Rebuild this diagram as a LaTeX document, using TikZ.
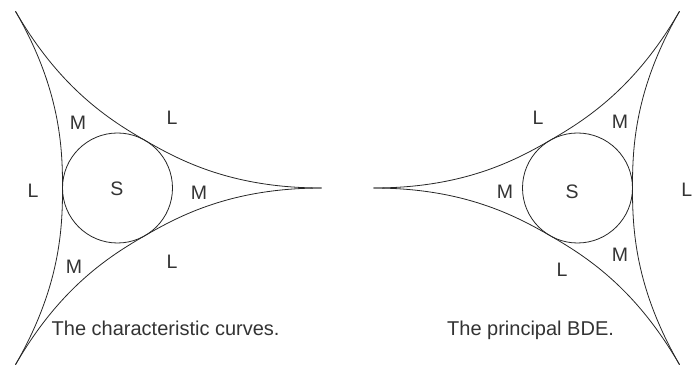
\documentclass[tikz,border=0pt]{standalone}
\usepackage{fontspec}
\setmainfont{Liberation Sans}
\newcommand\myarcpath{(204,0) .. controls (114,0) and (62.1,27.6) .. (27.5,47.6)
                        .. controls (-7.1,67.6) and (-57,98.8) .. (-102,176.7)}
\newcommand\mytricusp{%
  \draw[curve] (0,0) circle[radius=55];
  \draw[curve] \myarcpath;
  \begin{scope}[rotate=120]\draw[curve] \myarcpath;\end{scope}
  \begin{scope}[rotate=240]\draw[curve] \myarcpath;\end{scope}}
\begin{document}
\begin{tikzpicture}[x=1pt,y=1pt,
  curve/.style={line width=0.8pt, draw=black!85},
  lab/.style={text=black!80, font=\fontsize{19.5}{22}\selectfont, inner sep=0pt},
  captext/.style={text=black!80, font=\fontsize{20}{23}\selectfont, inner sep=0pt, anchor=base west}]
\useasboundingbox (0,0) rectangle (693,372);
\clip (0,0) rectangle (693,372);
% left figure
\begin{scope}[shift={(117.5,184)}]
  \coordinate (cl) at (0,0);
  \mytricusp
\end{scope}
% right figure (mirror)
\begin{scope}[shift={(577.5,184)}, xscale=-1]
  \coordinate (cr) at (0,0);
  \mytricusp
\end{scope}
% left labels
\node[lab] (lm1) at (78,249) {M};
\node[lab] (ll1) at (172,254) {L};
\node[lab] (ll2) at (33,181) {L};
\node[lab] (ls)  at (117,183) {S};
\node[lab] (lm2) at (199,179) {M};
\node[lab] (lm3) at (74,105) {M};
\node[lab] (ll3) at (172,110) {L};
\node[captext] (lcap) at (51.5,36) {The characteristic curves.};
% right labels
\node[lab] (rl1) at (538,254) {L};
\node[lab] (rm1) at (620,250) {M};
\node[lab] (rm2) at (505,180) {M};
\node[lab] (rs)  at (572,180) {S};
\node[lab, anchor=east] (rl2) at (692.5,182) {L};
\node[lab] (rm3) at (620,117) {M};
\node[lab] (rl3) at (562,102) {L};
\node[captext] (rcap) at (447,36) {The principal BDE.};
\end{tikzpicture}
\end{document}
